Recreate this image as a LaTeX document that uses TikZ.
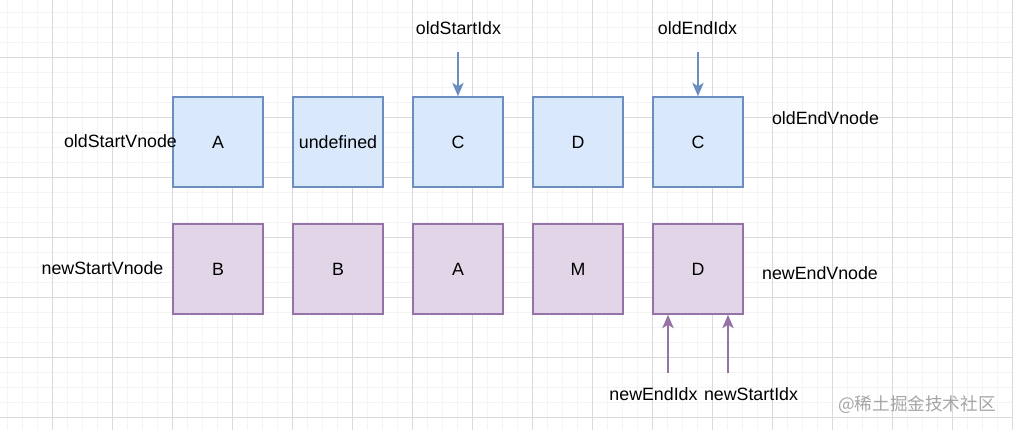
\documentclass[tikz,border=0pt]{standalone}
\usepackage{fontspec}
\setmainfont{Liberation Sans}
\newfontfamily\cjk{Noto Sans CJK SC}
\usetikzlibrary{arrows.meta}
\definecolor{oldfill}{HTML}{DAE8FC}
\definecolor{olddraw}{HTML}{6C8EBF}
\definecolor{newfill}{HTML}{E1D5E7}
\definecolor{newdraw}{HTML}{9673A6}
\definecolor{minorgrid}{HTML}{F4F4F4}
\definecolor{majorgrid}{HTML}{DADADA}

\begin{document}
\begin{tikzpicture}[x=0.75pt, y=-0.75pt,
    every node/.style={font=\fontsize{13.35pt}{16pt}\selectfont, inner sep=0pt},
    oldbox/.style={draw=olddraw, fill=oldfill, line width=1.2pt, minimum size=67.5pt},
    newbox/.style={draw=newdraw, fill=newfill, line width=1.2pt, minimum size=67.5pt},
    oldarr/.style={draw=olddraw, line width=1.2pt, -{Stealth[length=10pt, width=8.5pt, inset=2.5pt]}},
    newarr/.style={draw=newdraw, line width=1.2pt, -{Stealth[length=10pt, width=8.5pt, inset=2.5pt]}}
    ]
    \useasboundingbox (0,0) rectangle (1013,430);
    \fill[white] (0,0) rectangle (1013,430);
    % grid
    \foreach \x in {7,22,...,1012} \draw[minorgrid, line width=0.75pt] (\x,0) -- (\x,430);
    \foreach \y in {12,27,...,429} \draw[minorgrid, line width=0.75pt] (0,\y) -- (1013,\y);
    \foreach \x in {52,112,...,1012} \draw[majorgrid, line width=0.75pt] (\x,0) -- (\x,430);
    \foreach \y in {57,117,...,429} \draw[majorgrid, line width=0.75pt] (0,\y) -- (1013,\y);

    % old vnodes
    \node[oldbox] (o1) at (218,142) {A};
    \node[oldbox] (o2) at (338,142) {undefined};
    \node[oldbox] (o3) at (458,142) {C};
    \node[oldbox] (o4) at (578,142) {D};
    \node[oldbox] (o5) at (698,142) {C};
    % new vnodes
    \node[newbox] (n1) at (218,269) {B};
    \node[newbox] (n2) at (338,269) {B};
    \node[newbox] (n3) at (458,269) {A};
    \node[newbox] (n4) at (578,269) {M};
    \node[newbox] (n5) at (698,269) {D};

    \node (osv) at (120.5,141) {oldStartVnode};
    \node (nsv) at (102.5,268) {newStartVnode};
    \node (oev) at (825.5,118) {oldEndVnode};
    \node (nev) at (820,273) {newEndVnode};

    % indexes
    \node (osi) at (458.5,28) {oldStartIdx};
    \node (oei) at (697.5,28) {oldEndIdx};
    \node (nei) at (653.5,394) {newEndIdx};
    \node (nsi) at (751,394) {newStartIdx};
    \coordinate (c1) at (458,52);
    \coordinate (c2) at (698,52);
    \coordinate (c3) at (668,373);
    \coordinate (c4) at (728,373);
    \draw[oldarr] (c1) -- (o3.north);
    \draw[oldarr] (c2) -- (o5.north);
    \draw[newarr] (c3) -- (c3 |- n5.south);
    \draw[newarr] (c4) -- (c4 |- n5.south);

    \node[text=black!35] (wm) at (917,405) {\cjk\fontsize{13.2pt}{15pt}\selectfont @稀土掘金技术社区};
\end{tikzpicture}
\end{document}
